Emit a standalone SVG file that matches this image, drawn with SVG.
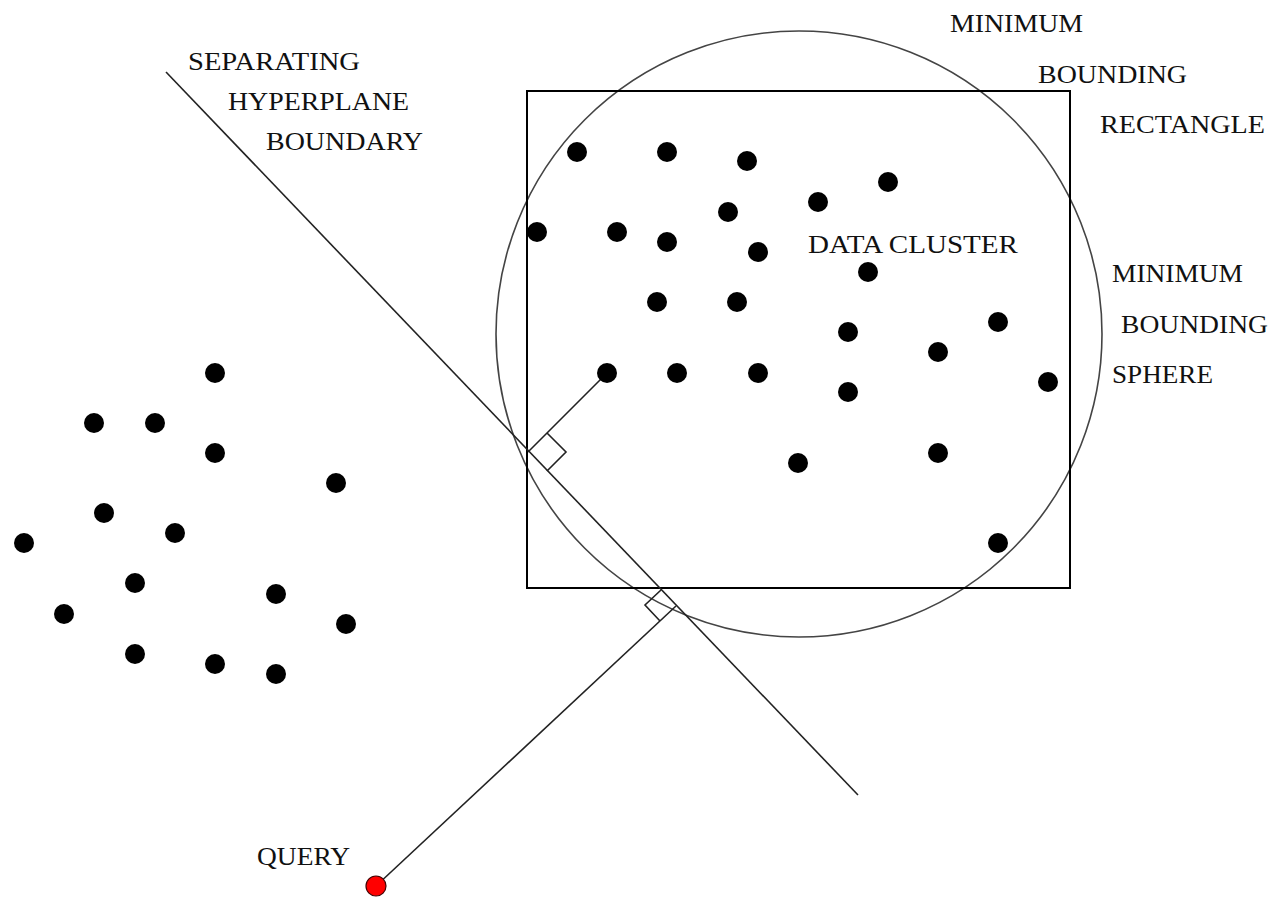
<svg xmlns="http://www.w3.org/2000/svg" width="1276" height="898" viewBox="0 0 1276 898">
<style>
.lbl{font-family:"Liberation Serif","Times New Roman",serif;font-size:26px;fill:#111}
.dot{fill:#000}
.ln{stroke:#222;stroke-width:1.6;fill:none}
</style>
<rect width="1276" height="898" fill="#fff"/>
<g id="bounding-sphere"><circle cx="799" cy="334" r="303" fill="none" stroke="#444" stroke-width="1.6"/></g>
<g id="bounding-rectangle"><rect x="527" y="91" width="543" height="497" fill="none" stroke="#000" stroke-width="2"/></g>
<g id="connectors">
<line id="hyperplane" class="ln" x1="166" y1="72" x2="858" y2="795"/>
<line class="ln" x1="607" y1="373" x2="528" y2="452"/>
<polyline class="ln" points="547,433 566,452 547,471"/>
<line class="ln" x1="376" y1="886" x2="676" y2="606"/>
<polyline class="ln" points="660,621 645,605 661,590"/>
</g>
<g id="data-cluster">
<circle class="dot" cx="577" cy="152" r="10"/><circle class="dot" cx="667" cy="152" r="10"/><circle class="dot" cx="747" cy="161" r="10"/><circle class="dot" cx="888" cy="182" r="10"/><circle class="dot" cx="818" cy="202" r="10"/><circle class="dot" cx="728" cy="212" r="10"/><circle class="dot" cx="537" cy="232" r="10"/><circle class="dot" cx="617" cy="232" r="10"/><circle class="dot" cx="667" cy="242" r="10"/><circle class="dot" cx="758" cy="252" r="10"/><circle class="dot" cx="868" cy="272" r="10"/><circle class="dot" cx="657" cy="302" r="10"/><circle class="dot" cx="737" cy="302" r="10"/><circle class="dot" cx="848" cy="332" r="10"/><circle class="dot" cx="998" cy="322" r="10"/><circle class="dot" cx="938" cy="352" r="10"/><circle class="dot" cx="607" cy="373" r="10"/><circle class="dot" cx="677" cy="373" r="10"/><circle class="dot" cx="758" cy="373" r="10"/><circle class="dot" cx="848" cy="392" r="10"/><circle class="dot" cx="1048" cy="382" r="10"/><circle class="dot" cx="798" cy="463" r="10"/><circle class="dot" cx="938" cy="453" r="10"/><circle class="dot" cx="998" cy="543" r="10"/>
</g>
<g id="other-cluster">
<circle class="dot" cx="215" cy="373" r="10"/><circle class="dot" cx="94" cy="423" r="10"/><circle class="dot" cx="155" cy="423" r="10"/><circle class="dot" cx="215" cy="453" r="10"/><circle class="dot" cx="336" cy="483" r="10"/><circle class="dot" cx="104" cy="513" r="10"/><circle class="dot" cx="175" cy="533" r="10"/><circle class="dot" cx="24" cy="543" r="10"/><circle class="dot" cx="135" cy="583" r="10"/><circle class="dot" cx="276" cy="594" r="10"/><circle class="dot" cx="64" cy="614" r="10"/><circle class="dot" cx="346" cy="624" r="10"/><circle class="dot" cx="135" cy="654" r="10"/><circle class="dot" cx="215" cy="664" r="10"/><circle class="dot" cx="276" cy="674" r="10"/>
</g>
<g id="query"><circle cx="376" cy="886" r="10" fill="#f00" stroke="#400" stroke-width="1.2"/></g>
<g id="labels">
<text class="lbl" x="188" y="70" textLength="172" lengthAdjust="spacingAndGlyphs">SEPARATING</text>
<text class="lbl" x="228" y="110" textLength="181" lengthAdjust="spacingAndGlyphs">HYPERPLANE</text>
<text class="lbl" x="266" y="150" textLength="157" lengthAdjust="spacingAndGlyphs">BOUNDARY</text>
<text class="lbl" x="950" y="32" textLength="133" lengthAdjust="spacingAndGlyphs">MINIMUM</text>
<text class="lbl" x="1038" y="83" textLength="149" lengthAdjust="spacingAndGlyphs">BOUNDING</text>
<text class="lbl" x="1100" y="133" textLength="165" lengthAdjust="spacingAndGlyphs">RECTANGLE</text>
<text class="lbl" x="808" y="253" textLength="210" lengthAdjust="spacingAndGlyphs">DATA CLUSTER</text>
<text class="lbl" x="1112" y="282" textLength="131" lengthAdjust="spacingAndGlyphs">MINIMUM</text>
<text class="lbl" x="1121" y="333" textLength="147" lengthAdjust="spacingAndGlyphs">BOUNDING</text>
<text class="lbl" x="1112" y="383" textLength="101" lengthAdjust="spacingAndGlyphs">SPHERE</text>
<text class="lbl" x="257" y="865" textLength="93" lengthAdjust="spacingAndGlyphs">QUERY</text>
</g>
</svg>
